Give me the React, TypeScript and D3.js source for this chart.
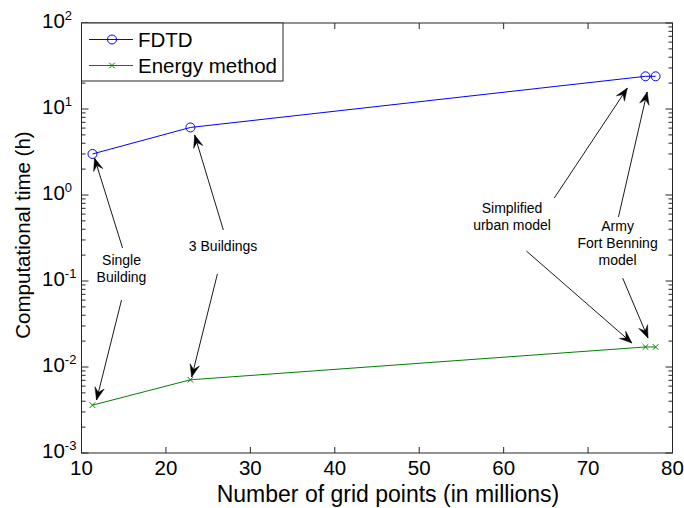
import React from 'react';
import * as d3 from 'd3';

// Grid size (millions of points) and run time (hours) for each model
const gridPoints = [11.3, 22.9, 76.8, 78.0];
const fdtdHours = [3.0, 6.1, 24.0, 24.0];
const energyHours = [0.0036, 0.0071, 0.0171, 0.0171];

const xTicks = [10, 20, 30, 40, 50, 60, 70, 80];
const yDecades = [-3, -2, -1, 0, 1, 2];

const seriesNames = ['FDTD', 'Energy method'];

// Callouts: text centre and arrows [fromX, fromY, toX, toY], all in data units
const noteLines = [
  ['Single', 'Building'],
  ['3 Buildings'],
  ['Simplified', 'urban model'],
  ['Army', 'Fort Benning', 'model'],
];
const noteCentres = [
  [14.74, 0.14],
  [26.77, 0.255],
  [61.0, 0.555],
  [73.5, 0.277],
];
const noteArrows = [
  [[14.86, 0.242, 11.54, 2.69], [14.74, 0.06, 11.78, 0.00413]],
  [[26.8, 0.392, 23.4, 4.99], [26.1, 0.121, 23.05, 0.00765]],
  [[66.0, 0.923, 74.65, 17.5], [62.7, 0.223, 75.2, 0.019]],
  [[73.6, 0.555, 77.0, 15.8], [74.1, 0.108, 77.1, 0.0217]],
];

const W = 684;
const H = 508;
const M = { left: 81.5, right: 672.5, top: 23, bottom: 453 };
const FONT = 'Arial, "Liberation Sans", Helvetica, sans-serif';
const BLUE = '#0000ff';
const GREEN = '#008000';

export default function App() {
  const x = d3.scaleLinear().domain([10, 80]).range([M.left, M.right]);
  const y = d3.scaleLog().domain([1e-3, 1e2]).range([M.bottom, M.top]);

  const line = d3
    .line<[number, number]>()
    .x((d) => x(d[0]))
    .y((d) => y(d[1]));

  const fdtd = gridPoints.map((g, i) => [g, fdtdHours[i]] as [number, number]);
  const energy = gridPoints.map((g, i) => [g, energyHours[i]] as [number, number]);

  const minorTicks: number[] = [];
  for (let e = -3; e < 2; e++) {
    for (let m = 2; m <= 9; m++) minorTicks.push(m * Math.pow(10, e));
  }

  const arrowHead = (x1: number, y1: number, x2: number, y2: number) => {
    const ang = Math.atan2(y2 - y1, x2 - x1);
    const L = 12.5;
    const w = 4.8;
    const c = Math.cos(ang);
    const s = Math.sin(ang);
    const pt = (a: number, b: number) => [x2 + a * c - b * s, y2 + a * s + b * c];
    const pts = [pt(0, 0), pt(-L, w), pt(-0.62 * L, 0), pt(-L, -w)];
    return pts.map((p) => p.join(',')).join(' ');
  };

  const xMark = (cx: number, cy: number, r: number) =>
    `M${cx - r},${cy - r}L${cx + r},${cy + r}M${cx - r},${cy + r}L${cx + r},${cy - r}`;

  return (
    <svg
      width={W}
      height={H}
      style={{ position: 'absolute', left: 0, top: 0, background: '#fff' }}
      fontFamily={FONT}
    >
      <rect x={0} y={0} width={W} height={H} fill="#fff" />

      {/* axes box */}
      <rect
        x={M.left}
        y={M.top}
        width={M.right - M.left}
        height={M.bottom - M.top}
        fill="#fff"
        stroke="#262626"
        strokeWidth={1}
      />

      {/* x ticks, bottom and top */}
      {xTicks.map((t) => (
        <g key={`xt${t}`}>
          <line x1={x(t)} x2={x(t)} y1={M.bottom} y2={M.bottom - 6} stroke="#262626" />
          <line x1={x(t)} x2={x(t)} y1={M.top} y2={M.top + 6} stroke="#262626" />
          <text x={x(t)} y={475} fontSize={20.5} textAnchor="middle" fill="#000">
            {t}
          </text>
        </g>
      ))}

      {/* y major ticks and labels */}
      {yDecades.map((e) => {
        const v = Math.pow(10, e);
        return (
          <g key={`yt${e}`}>
            <line x1={M.left} x2={M.left + 7} y1={y(v)} y2={y(v)} stroke="#262626" />
            <line x1={M.right} x2={M.right - 7} y1={y(v)} y2={y(v)} stroke="#262626" />
            <text x={42} y={y(v) + 5} fontSize={20.5} fill="#000">
              10
              <tspan fontSize={13} dy={-8.5}>
                {e}
              </tspan>
            </text>
          </g>
        );
      })}
      {minorTicks.map((v, i) => (
        <g key={`ym${i}`}>
          <line x1={M.left} x2={M.left + 4} y1={y(v)} y2={y(v)} stroke="#262626" />
          <line x1={M.right} x2={M.right - 4} y1={y(v)} y2={y(v)} stroke="#262626" />
        </g>
      ))}

      {/* series */}
      <path d={line(fdtd) || ''} fill="none" stroke={BLUE} strokeWidth={1} />
      {fdtd.map((d, i) => (
        <circle key={`fc${i}`} cx={x(d[0])} cy={y(d[1])} r={4.5} fill="none" stroke={BLUE} strokeWidth={1} />
      ))}
      <path d={line(energy) || ''} fill="none" stroke={GREEN} strokeWidth={1} />
      {energy.map((d, i) => (
        <path key={`em${i}`} d={xMark(x(d[0]), y(d[1]), 2.8)} stroke={GREEN} strokeWidth={1} fill="none" />
      ))}

      {/* callouts */}
      {noteLines.map((lines, i) => {
        const cx = x(noteCentres[i][0]);
        const cy = y(noteCentres[i][1]);
        const lh = 17;
        const first = cy - ((lines.length - 1) * lh) / 2 + 5;
        return (
          <g key={`n${i}`}>
            {lines.map((t, j) => (
              <text key={j} x={cx} y={first + j * lh} fontSize={14} textAnchor="middle" fill="#000">
                {t}
              </text>
            ))}
            {noteArrows[i].map((a, k) => {
              const x1 = x(a[0]);
              const y1 = y(a[1]);
              const x2 = x(a[2]);
              const y2 = y(a[3]);
              return (
                <g key={k}>
                  <line x1={x1} y1={y1} x2={x2} y2={y2} stroke="#000" strokeWidth={0.9} />
                  <polygon points={arrowHead(x1, y1, x2, y2)} fill="#000" stroke="#000" strokeWidth={0.5} />
                </g>
              );
            })}
          </g>
        );
      })}

      {/* legend */}
      <g>
        <rect x={M.left} y={M.top} width={283 - M.left} height={81 - M.top} fill="#fff" stroke="#262626" />
        <line x1={89} x2={133} y1={39.5} y2={39.5} stroke={BLUE} />
        <circle cx={112} cy={39.5} r={4.5} fill="none" stroke={BLUE} />
        <text x={138} y={47} fontSize={20.5} fill="#000">
          {seriesNames[0]}
        </text>
        <line x1={89} x2={133} y1={65.5} y2={65.5} stroke={GREEN} />
        <path d={xMark(112, 65.5, 2.8)} stroke={GREEN} fill="none" />
        <text x={138} y={73} fontSize={20.5} fill="#000">
          {seriesNames[1]}
        </text>
      </g>

      {/* axis titles */}
      <text x={388} y={502} fontSize={23} textAnchor="middle" fill="#000">
        Number of grid points (in millions)
      </text>
      <text transform="translate(30,235) rotate(-90)" fontSize={20.5} textAnchor="middle" fill="#000">
        Computational time (h)
      </text>
    </svg>
  );
}
